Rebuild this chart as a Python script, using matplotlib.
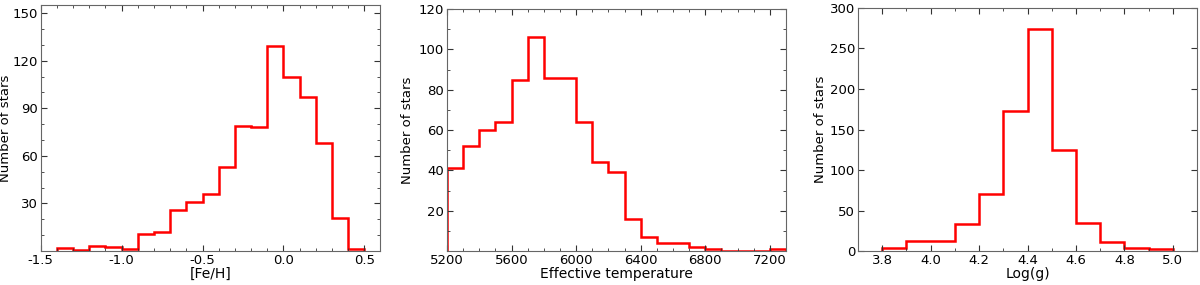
import numpy as np
import matplotlib

matplotlib.use("Agg")
import matplotlib.pyplot as plt
from matplotlib.ticker import MultipleLocator

# [Fe/H] histogram, bins of 0.1 starting at -1.4
feh_edges_start = -1.4
feh_counts = [2, 0.5, 3, 2.5, 1, 11, 12, 26, 31, 36, 53, 79, 78, 129, 110, 97, 68, 21, 1]

# effective temperature histogram, bins of 100 K starting at 5200
teff_edges_start = 5200
teff_counts = [41, 52, 60, 64, 85, 106, 86, 86, 64, 44, 39, 16, 7, 4, 4, 2, 1, 0, 0, 0, 1]

# log(g) histogram, bins of 0.1 starting at 3.8
logg_edges_start = 3.8
logg_counts = [4, 13, 12, 34, 71, 173, 274, 125, 35, 11, 4, 3]

plt.rcParams["font.family"] = ["DejaVu Sans"]
plt.rcParams["font.size"] = 9.5

fig = plt.figure(figsize=(12, 2.85), dpi=100)
axes = [
    fig.add_axes([0.034, 0.119, 0.283, 0.863]),
    fig.add_axes([0.3725, 0.119, 0.2825, 0.849]),
    fig.add_axes([0.715, 0.119, 0.2825, 0.853]),
]

panels = [
    (feh_edges_start, 0.1, feh_counts, (-1.5, 0.6), (0, 155), "[Fe/H]",
     [-1.5, -1.0, -0.5, 0.0, 0.5], ["-1.5", "-1.0", "-0.5", "0.0", "0.5"], 0.1,
     [30, 60, 90, 120, 150], 10, -0.085),
    (teff_edges_start, 100, teff_counts, (5200, 7300), (0, 120), "Effective temperature",
     [5200, 5600, 6000, 6400, 6800, 7200], None, 100,
     [20, 40, 60, 80, 100, 120], 10, -0.097),
    (logg_edges_start, 0.1, logg_counts, (3.7, 5.1), (0, 300), "Log(g)",
     [3.8, 4.0, 4.2, 4.4, 4.6, 4.8, 5.0], None, 0.1,
     [0, 50, 100, 150, 200, 250, 300], None, -0.091),
]

for ax, (start, width, counts, xlim, ylim, xlabel, xticks, xticklabels, xminor,
         yticks, yminor, ylabel_x) in zip(axes, panels):
    edges = start + width * np.arange(len(counts) + 1)
    ax.stairs(counts, edges, baseline=0, color="red", linewidth=1.8)
    ax.set_xlim(*xlim)
    ax.set_ylim(*ylim)
    ax.set_xticks(xticks)
    if xticklabels is not None:
        ax.set_xticklabels(xticklabels)
    ax.set_yticks(yticks)
    ax.xaxis.set_minor_locator(MultipleLocator(xminor))
    if yminor:
        ax.yaxis.set_minor_locator(MultipleLocator(yminor))
    ax.tick_params(which="both", direction="in", top=True, right=True, colors="#333333",
                   labelcolor="black", labelsize=9.5, pad=2)
    ax.tick_params(which="major", length=4)
    ax.tick_params(which="minor", length=2)
    for spine in ax.spines.values():
        spine.set_color("#666666")
        spine.set_linewidth(0.8)
    ax.set_xlabel(xlabel, fontsize=10, labelpad=0)
    ax.set_ylabel("Number of stars", fontsize=9.5)
    ax.yaxis.set_label_coords(ylabel_x, 0.5)

fig.savefig("out.png", dpi=100)
